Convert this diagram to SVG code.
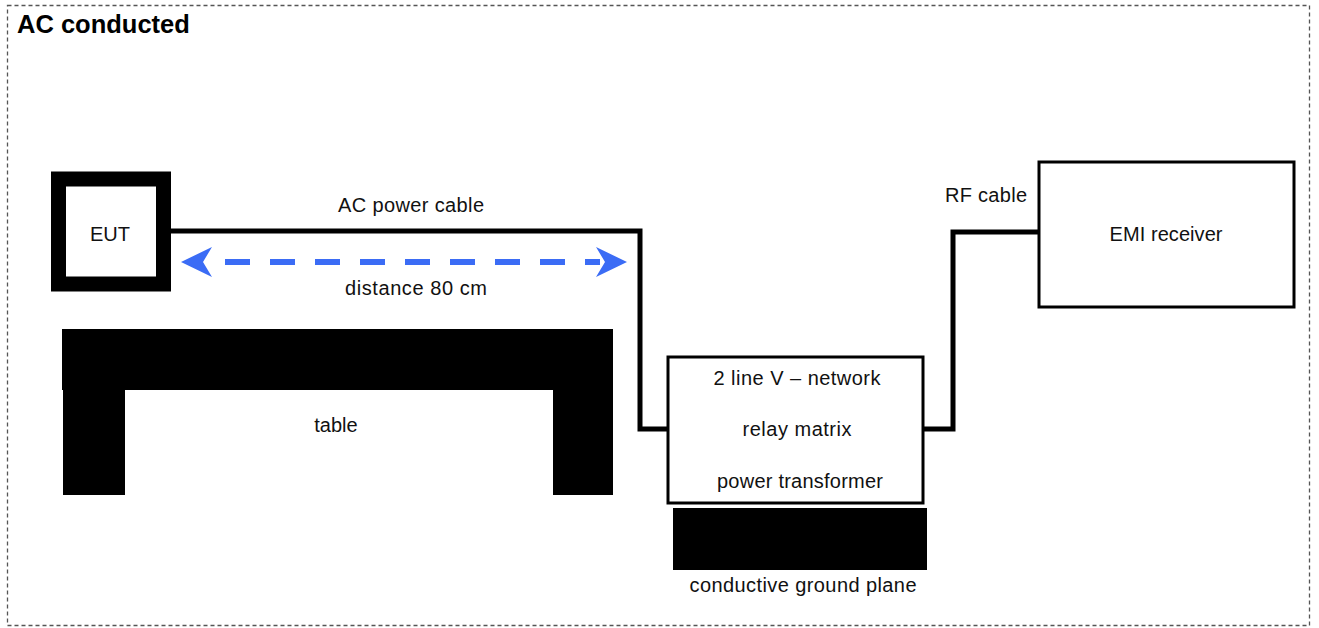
<svg xmlns="http://www.w3.org/2000/svg" width="1319" height="628" viewBox="0 0 1319 628">
<defs>
<style>
.t{font-family:"Liberation Sans",Arial,sans-serif;font-size:20px;fill:#111;}
.c{text-anchor:middle;}
.cable{fill:none;stroke:#000;stroke-width:5;stroke-linejoin:miter;}
.box{fill:#fff;stroke:#000;stroke-width:3;}
.blk{fill:#000;}
</style>
</defs>
<rect width="1319" height="628" fill="#fff"/>
<rect x="7.5" y="5.5" width="1302" height="620" fill="none" stroke="#555" stroke-width="1.3" stroke-dasharray="4 3"/>
<text x="17" y="33" style="font-family:'Liberation Sans',Arial,sans-serif;font-size:25.5px;font-weight:bold;fill:#000">AC conducted</text>

<g id="connectors">
<path class="cable" d="M171,231 H640 V429 H668"/>
<path class="cable" d="M923,429 H953 V232 H1039"/>
<g id="distance">
<line x1="225" y1="262" x2="600" y2="262" stroke="#3b6cf5" stroke-width="6" stroke-dasharray="25 20"/>
<polygon points="181,262 212,247 203,262 212,277" fill="#3b6cf5"/>
<polygon points="627,262 596,247 605,262 596,277" fill="#3b6cf5"/>
</g>
<text class="t c" x="411" y="212" textLength="146" lengthAdjust="spacing">AC power cable</text>
<text class="t c" x="416" y="295" textLength="142" lengthAdjust="spacing">distance 80 cm</text>
<text class="t c" x="986" y="202" textLength="82" lengthAdjust="spacing">RF cable</text>
</g>

<g id="eut">
<rect x="58.5" y="179" width="105" height="105" fill="#fff" stroke="#000" stroke-width="15"/>
<text class="t c" x="110" y="241">EUT</text>
</g>

<g id="table">
<rect class="blk" x="62" y="329" width="551" height="61"/>
<rect class="blk" x="63" y="389" width="62" height="106"/>
<rect class="blk" x="553" y="389" width="60" height="106"/>
<text class="t c" x="336" y="432">table</text>
</g>

<g id="lisn">
<rect class="box" x="668" y="357" width="255" height="146"/>
<text class="t c" x="797" y="385" textLength="167" lengthAdjust="spacing">2 line V – network</text>
<text class="t c" x="797" y="436" textLength="109" lengthAdjust="spacing">relay matrix</text>
<text class="t c" x="800" y="488" textLength="166" lengthAdjust="spacing">power transformer</text>
</g>

<g id="ground">
<rect class="blk" x="673" y="508" width="254" height="62"/>
<text class="t c" x="803" y="592" textLength="227" lengthAdjust="spacing">conductive ground plane</text>
</g>

<g id="emi">
<rect class="box" x="1039" y="162" width="255" height="145"/>
<text class="t c" x="1166" y="241" textLength="113" lengthAdjust="spacing">EMI receiver</text>
</g>
</svg>
